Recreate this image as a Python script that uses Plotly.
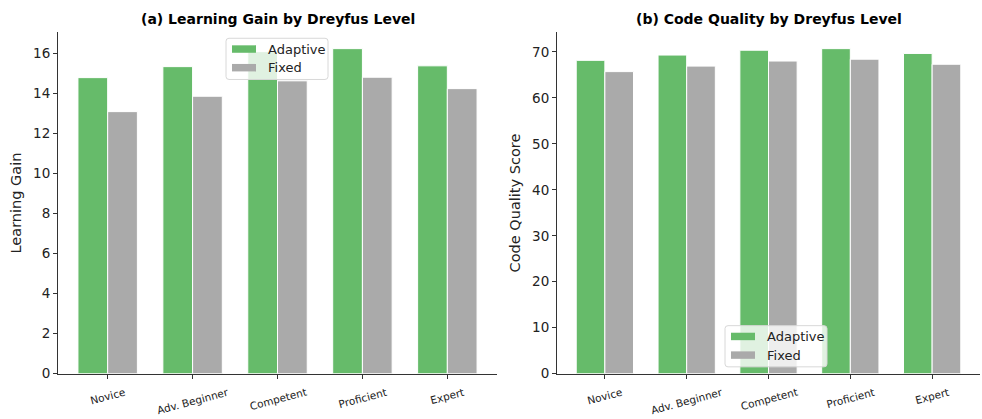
import plotly.graph_objects as go

levels = ["Novice", "Adv. Beginner", "Competent", "Proficient", "Expert"]
gain_adaptive = [14.8, 15.35, 16.1, 16.25, 15.39]
gain_fixed = [13.1, 13.87, 14.64, 14.82, 14.25]
quality_adaptive = [68.15, 69.3, 70.35, 70.7, 69.65]
quality_fixed = [65.7, 66.9, 68.0, 68.4, 67.3]
series_names = ["Adaptive", "Fixed"]

GREEN = "#66bb6a"
GRAY = "#aaaaaa"
COLORS = [GREEN, GRAY]
W = 982
H = 419
BAR_W = 0.35
FONT = "DejaVu Sans"

idx = list(range(len(levels)))

fig = go.Figure()


def add_pair(adaptive, fixed, xa, ya):
    fig.add_trace(go.Bar(
        x=idx, y=adaptive, name=series_names[0], offset=-BAR_W, width=BAR_W,
        marker=dict(color=GREEN, line=dict(color="white", width=1)),
        xaxis=xa, yaxis=ya, showlegend=False,
    ))
    fig.add_trace(go.Bar(
        x=idx, y=fixed, name=series_names[1], offset=0, width=BAR_W,
        marker=dict(color=GRAY, line=dict(color="white", width=1)),
        xaxis=xa, yaxis=ya, showlegend=False,
    ))


add_pair(gain_adaptive, gain_fixed, "x", "y")
add_pair(quality_adaptive, quality_fixed, "x2", "y2")


def px_x(p):
    return p / W


def px_y(p):
    return (H - p) / H


ydom = [px_y(381), px_y(33)]
xdom1 = [px_x(58), px_x(497)]
xdom2 = [px_x(557), px_x(980)]

pad = BAR_W + 0.05 * (len(levels) - 1 + 2 * BAR_W)
xrange = [-pad, len(levels) - 1 + pad]

axis_common = dict(
    showline=True, linecolor="#333333", linewidth=1, showgrid=False,
    zeroline=False, ticks="outside", ticklen=4, tickcolor="#333333",
    tickfont=dict(family=FONT, size=13.5, color="#222222"),
)

xcommon = dict(axis_common, tickmode="array", tickvals=idx,
               showticklabels=False, range=xrange)

shapes = []
annotations = []

# rotated category labels under each x axis
for xref in ("x", "x2"):
    for i, lab in zip(idx, levels):
        annotations.append(dict(
            text=lab, xref=xref, yref="paper", x=i, y=px_y(391),
            xanchor="center", yanchor="top", textangle=-15, showarrow=False,
            font=dict(family=FONT, size=10.5, color="#222222"),
        ))


def rounded_rect(x0, y0, x1, y1, r=3):
    # pixel coordinates -> paper path with rounded corners
    X = lambda v: px_x(v)
    Y = lambda v: px_y(v)
    return (f"M {X(x0 + r)},{Y(y0)} L {X(x1 - r)},{Y(y0)} "
            f"Q {X(x1)},{Y(y0)} {X(x1)},{Y(y0 + r)} L {X(x1)},{Y(y1 - r)} "
            f"Q {X(x1)},{Y(y1)} {X(x1 - r)},{Y(y1)} L {X(x0 + r)},{Y(y1)} "
            f"Q {X(x0)},{Y(y1)} {X(x0)},{Y(y1 - r)} L {X(x0)},{Y(y0 + r)} "
            f"Q {X(x0)},{Y(y0)} {X(x0 + r)},{Y(y0)} Z")


def add_legend(box_x0, box_y0):
    box_w, box_h = 102, 42
    shapes.append(dict(
        type="path", xref="paper", yref="paper",
        path=rounded_rect(box_x0, box_y0, box_x0 + box_w, box_y0 + box_h),
        fillcolor="rgba(255,255,255,0.8)", line=dict(color="#d8d8d8", width=1),
        layer="above",
    ))
    for k, (name, col) in enumerate(zip(series_names, COLORS)):
        cy = box_y0 + 11 + k * 19
        shapes.append(dict(
            type="rect", xref="paper", yref="paper",
            x0=px_x(box_x0 + 6), x1=px_x(box_x0 + 30),
            y0=px_y(cy - 3.8), y1=px_y(cy + 3.8),
            fillcolor=col, line=dict(width=0), layer="above",
        ))
        annotations.append(dict(
            text=name, xref="paper", yref="paper",
            x=px_x(box_x0 + 40), y=px_y(cy), xanchor="left", yanchor="middle",
            showarrow=False, font=dict(family=FONT, size=13, color="#222222"),
        ))


add_legend(226, 39)
add_legend(725, 332)

titles = ["<b>(a) Learning Gain by Dreyfus Level</b>",
          "<b>(b) Code Quality by Dreyfus Level</b>"]
for t, dom in zip(titles, (xdom1, xdom2)):
    annotations.append(dict(
        text=t, xref="paper", yref="paper", x=(dom[0] + dom[1]) / 2, y=px_y(19),
        xanchor="center", yanchor="middle", showarrow=False,
        font=dict(family=FONT, size=14, color="black"),
    ))

fig.update_layout(
    width=W, height=H,
    margin=dict(l=0, r=0, t=0, b=0),
    paper_bgcolor="white", plot_bgcolor="white",
    font=dict(family=FONT, color="#222222"),
    barmode="overlay", showlegend=False,
    xaxis=dict(xcommon, domain=xdom1, anchor="y"),
    xaxis2=dict(xcommon, domain=xdom2, anchor="y2"),
    yaxis=dict(axis_common, domain=ydom, anchor="x",
               range=[0, max(gain_adaptive) * 1.05], dtick=2,
               title=dict(text="Learning Gain", standoff=8,
                          font=dict(family=FONT, size=14.5))),
    yaxis2=dict(axis_common, domain=ydom, anchor="x2",
                range=[0, max(quality_adaptive) * 1.05], dtick=10,
                title=dict(text="Code Quality Score", standoff=8,
                           font=dict(family=FONT, size=14.5))),
    shapes=shapes,
    annotations=annotations,
)

fig.write_html("out.html")
